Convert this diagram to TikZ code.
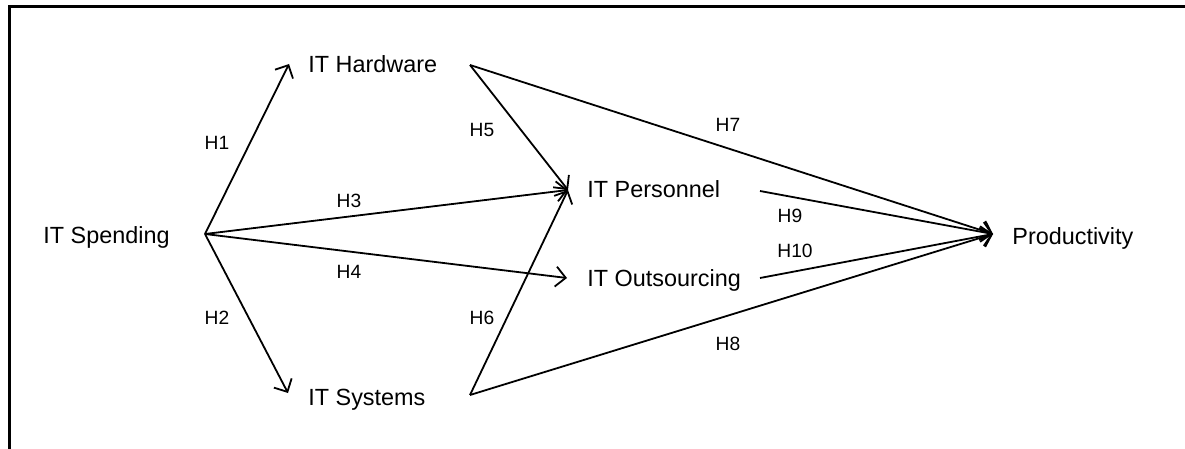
\documentclass[tikz,border=0pt]{standalone}
\usepackage{fontspec}
\setmainfont{Liberation Sans}
\usetikzlibrary{arrows.meta}
\begin{document}
\begin{tikzpicture}[x=0.5pt,y=-0.5pt,
  concept/.style={inner sep=0pt,anchor=base west,font=\fontsize{11.7}{14}\selectfont},
  hyp/.style={inner sep=0pt,font=\fontsize{9.6}{11}\selectfont},
  link/.style={line width=0.9pt,-{Straight Barb[length=5pt,width=10pt,line width=0.9pt]}},
  frame/.style={line width=1.5pt}]
\useasboundingbox (0,0) rectangle (1185,449);
\draw[frame] (9,449) -- (9,6.5) -- (1185,6.5);
% concepts
\node[concept] (spend) at (43,243) {IT Spending};
\node[concept] (hw) at (308,73) {IT Hardware};
\node[concept] (sys) at (308,405) {IT Systems};
\node[concept] (pers) at (587,198) {IT Personnel};
\node[concept] (outs) at (587,286) {IT Outsourcing};
\node[concept] (prod) at (1012,244) {Productivity};
% connection points
\coordinate (spOut) at (205,234);
\coordinate (hwIn) at (289,64);
\coordinate (hwOut) at (470,65);
\coordinate (sysIn) at (288,393);
\coordinate (sysOut) at (470,395);
\coordinate (persIn) at (568,190);
\coordinate (persOut) at (760,191);
\coordinate (outsIn) at (567,278);
\coordinate (outsOut) at (760,278);
\coordinate (prodIn) at (993,234);
% links
\draw[link] (spOut) -- (hwIn);
\draw[link] (spOut) -- (sysIn);
\draw[link] (spOut) -- (persIn);
\draw[link] (spOut) -- (outsIn);
\draw[link] (hwOut) -- (persIn);
\draw[link] (sysOut) -- (persIn);
\draw[link] (hwOut) -- (prodIn);
\draw[link] (sysOut) -- (prodIn);
\draw[link] (persOut) -- (prodIn);
\draw[link] (outsOut) -- (prodIn);
% hypotheses
\node[hyp] (h1) at (217,143) {H1};
\node[hyp] (h2) at (217,318) {H2};
\node[hyp] (h3) at (349,201) {H3};
\node[hyp] (h4) at (349,272) {H4};
\node[hyp] (h5) at (482,130) {H5};
\node[hyp] (h6) at (482,318) {H6};
\node[hyp] (h7) at (728,125) {H7};
\node[hyp] (h8) at (728,344) {H8};
\node[hyp] (h9) at (790,216) {H9};
\node[hyp] (h10) at (795,251) {H10};
\end{tikzpicture}
\end{document}
